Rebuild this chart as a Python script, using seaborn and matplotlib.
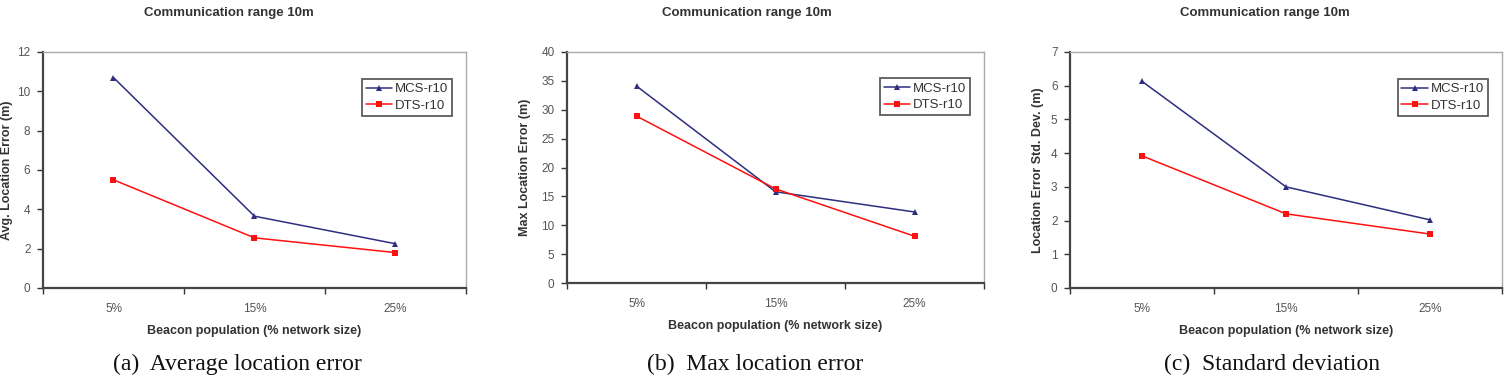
import matplotlib
matplotlib.use("Agg")
import matplotlib.pyplot as plt
import seaborn as sns
import pandas as pd

categories = ["5%", "15%", "25%"]
series_names = ["MCS-r10", "DTS-r10"]

avg_mcs = [10.7, 3.65, 2.25]
avg_dts = [5.5, 2.55, 1.8]
max_mcs = [34.1, 15.8, 12.3]
max_dts = [28.9, 16.3, 8.1]
std_mcs = [6.13, 3.0, 2.02]
std_dts = [3.92, 2.2, 1.6]

titles = ["Communication range 10m"] * 3
ylabels = ["Avg. Location Error (m)", "Max Location Error (m)", "Location Error Std. Dev. (m)"]
xlabel = "Beacon population (% network size)"
captions = ["(a)  Average location error", "(b)  Max location error", "(c)  Standard deviation"]
yticks = [[0, 2, 4, 6, 8, 10, 12], [0, 5, 10, 15, 20, 25, 30, 35, 40], [0, 1, 2, 3, 4, 5, 6, 7]]

sns.set_theme(style="white")
plt.rcParams['font.family'] = ['Liberation Sans', 'DejaVu Sans']

W, H = 1506, 381
fig = plt.figure(figsize=(W / 100, H / 100), dpi=100)

# axes boxes in pixels: left, right, top, bottom
boxes = [(43, 466, 52, 288), (567, 984, 52, 283), (1070, 1502, 52, 288)]
ylabel_right = [13, 531, 1044]
caption_x = [237, 755, 1272]
title_x = [229, 747, 1265]

data = [(avg_mcs, avg_dts), (max_mcs, max_dts), (std_mcs, std_dts)]
palette = {"MCS-r10": "#2E2E80", "DTS-r10": "#FF1010"}
markers = {"MCS-r10": "^", "DTS-r10": "s"}

for i, (mcs, dts) in enumerate(data):
    l, r, t, b = boxes[i]
    ax = fig.add_axes([l / W, 1 - b / H, (r - l) / W, (b - t) / H])
    df = pd.DataFrame({
        "cat": categories * 2,
        "val": list(mcs) + list(dts),
        "series": [series_names[0]] * 3 + [series_names[1]] * 3,
    })
    sns.lineplot(data=df, x="cat", y="val", hue="series", style="series",
                 palette=palette, markers=markers, dashes=False, markersize=4,
                 markeredgewidth=0, linewidth=1.1, ax=ax, sort=False)
    ax.set_xlim(-0.5, 2.5)
    ax.set_ylim(yticks[i][0], yticks[i][-1])
    ax.set_yticks(yticks[i])
    ax.set_xticks([-0.5, 0.5, 1.5, 2.5])
    ax.set_xticklabels([])
    ax.set_xticks([0, 1, 2], minor=True)
    ax.set_xticklabels(categories, minor=True)
    ax.tick_params(axis="x", which="major", direction="out", length=4, width=1, color="#333333", bottom=True)
    ax.tick_params(axis="x", which="minor", length=0, pad=11, labelsize=8.5, labelcolor="#555555", bottom=True)
    ax.tick_params(axis="y", direction="out", length=4, width=1, color="#333333", labelsize=8.5,
                   labelcolor="#555555", left=True, pad=5)
    for side in ["left", "bottom"]:
        ax.spines[side].set_color("#444444")
        ax.spines[side].set_linewidth(1.6)
    for side in ["top", "right"]:
        ax.spines[side].set_color("#AAAAAA")
        ax.spines[side].set_linewidth(1.0)
    ax.set_xlabel(xlabel, fontsize=9, fontweight="bold", color="#333333", labelpad=7)
    ax.set_ylabel(ylabels[i], fontsize=9, fontweight="bold", color="#333333")
    ax.yaxis.set_label_coords((ylabel_right[i] - l) / (r - l), 0.5)
    leg = ax.legend(loc="upper right", bbox_to_anchor=((452 - 43) / 423, 1 - (79 - 52) / 236), fontsize=9.5,
                    frameon=True, fancybox=False, handlelength=2.0, handletextpad=0.2, borderpad=0.3,
                    labelspacing=0.35, borderaxespad=0)
    leg.get_frame().set_edgecolor("#333333")
    leg.get_frame().set_linewidth(1.3)
    for txt in leg.get_texts():
        txt.set_color("#333333")
    fig.text(title_x[i] / W, 1 - 13 / H, titles[i], ha="center", va="center", fontsize=9.5,
             fontweight="bold", color="#333333")
    fig.text(caption_x[i] / W, 1 - 364 / H, captions[i], ha="center", va="center", fontsize=17,
             family=["Liberation Serif", "DejaVu Serif"], color="#111111")

fig.savefig("out.png", dpi=100)
